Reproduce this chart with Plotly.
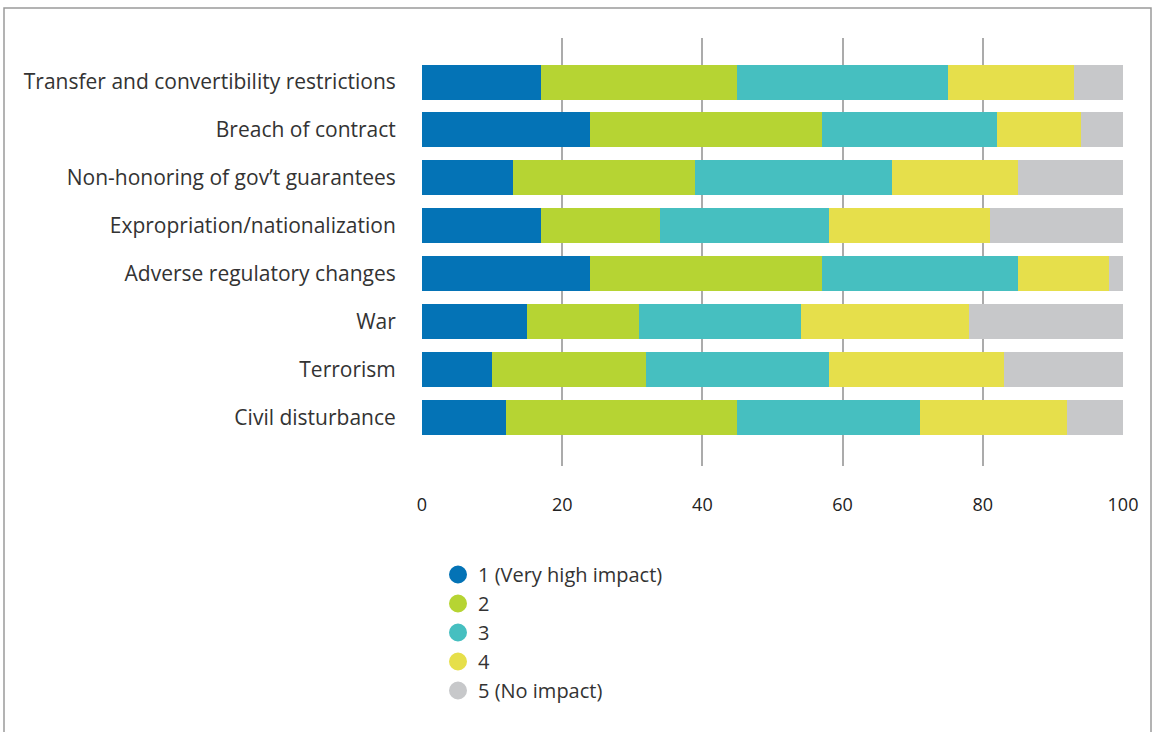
import plotly.graph_objects as go

categories = [
    "Transfer and convertibility restrictions",
    "Breach of contract",
    "Non-honoring of gov’t guarantees",
    "Expropriation/nationalization",
    "Adverse regulatory changes",
    "War",
    "Terrorism",
    "Civil disturbance",
]
series_names = ["1 (Very high impact)", "2", "3", "4", "5 (No impact)"]
impact_1 = [17, 24, 13, 17, 24, 15, 10, 12]
impact_2 = [28, 33, 26, 17, 33, 16, 22, 33]
impact_3 = [30, 25, 28, 24, 28, 23, 26, 26]
impact_4 = [18, 12, 18, 23, 13, 24, 25, 21]
impact_5 = [7, 6, 15, 19, 2, 22, 17, 8]
x_ticks = [0, 20, 40, 60, 80, 100]

colors = ["#0473B6", "#B6D433", "#46BFC0", "#E6DF4B", "#C7C8CA"]
values = [impact_1, impact_2, impact_3, impact_4, impact_5]

FONT = "Open Sans"
fig = go.Figure()
for name, vals, col in zip(series_names, values, colors):
    fig.add_trace(go.Bar(
        y=categories, x=vals, orientation="h", name=name,
        marker=dict(color=col, line=dict(width=0)),
        showlegend=False,
    ))
for name, col in zip(series_names, colors):
    fig.add_trace(go.Scatter(
        x=[None], y=[None], mode="markers", name=name,
        marker=dict(symbol="circle", size=16, color=col, line=dict(color=col, width=2)),
        showlegend=True,
    ))

W, H = 1155, 732
L, R, T, B = 422, 32, 38, 266
pw, ph = W - L - R, H - T - B

def px(xp):
    return (xp - L) / pw

def py(yp):
    return (H - B - yp) / ph

fig.update_layout(
    width=W, height=H,
    margin=dict(l=L, r=R, t=T, b=B),
    barmode="stack",
    bargap=0.27,
    plot_bgcolor="white",
    paper_bgcolor="white",
    font=dict(family=FONT, color="#333333"),
    legend=dict(
        x=px(438), y=py(555), xanchor="left", yanchor="top",
        font=dict(size=20, color="#333333", family=FONT),
        itemsizing="trace", tracegroupgap=0, traceorder="normal",
        bgcolor="rgba(0,0,0,0)",
    ),
    xaxis=dict(
        range=[0, 100], tickvals=x_ticks, ticktext=[str(v) for v in x_ticks],
        showgrid=True, gridcolor="#ABABAB", gridwidth=1.5,
        zeroline=False, showline=False,
        ticks="outside", ticklen=22, tickcolor="rgba(0,0,0,0)",
        tickfont=dict(size=18, color="#222222", family=FONT),
    ),
    yaxis=dict(
        categoryorder="array", categoryarray=categories,
        range=[8.02, -0.92],
        showgrid=False, zeroline=False, showline=False,
        ticks="outside", ticklen=21, tickcolor="rgba(0,0,0,0)",
        tickfont=dict(size=21, color="#333333", family=FONT),
    ),
    shapes=[dict(
        type="rect", xref="paper", yref="paper",
        x0=px(4), x1=px(1151), y0=py(745), y1=py(8),
        line=dict(color="#9A9A9A", width=1.5), fillcolor="rgba(0,0,0,0)",
        layer="below",
    )],
)

fig.write_html(
    "out.html",
    config={"displayModeBar": False},
    post_script="document.body.style.margin='0';document.body.style.overflow='hidden';",
)
